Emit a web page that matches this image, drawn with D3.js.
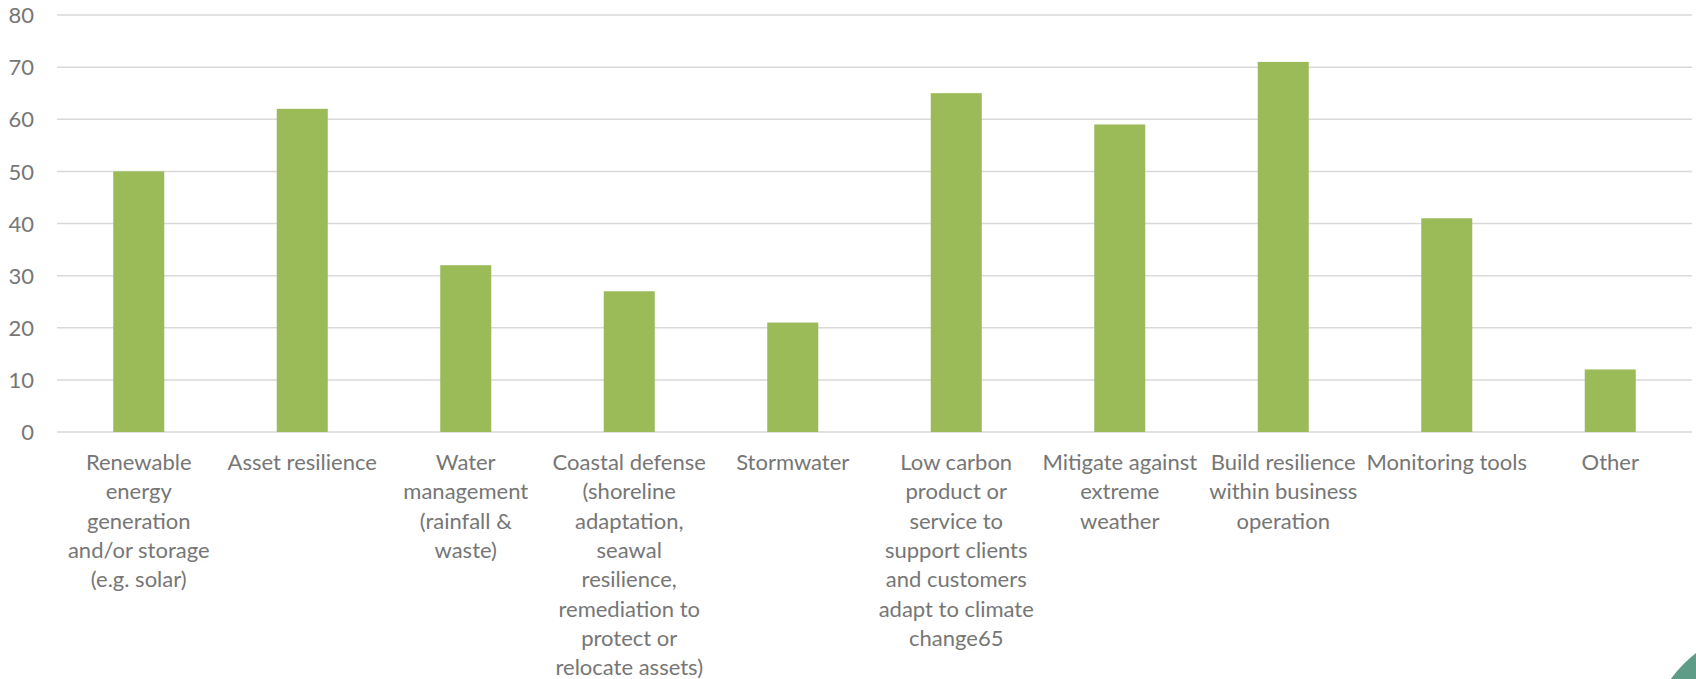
<!DOCTYPE html>
<html>
<head>
<meta charset="utf-8">
<script src="https://cdn.jsdelivr.net/npm/d3@7"></script>
<style>
  html, body { margin: 0; padding: 0; background: #fff; }
  svg { display: block; }
</style>
</head>
<body>
<svg id="chart" width="1696" height="679"></svg>
<script>
const categories = [
  "Renewable\nenergy\ngeneration\nand/or storage\n(e.g. solar)",
  "Asset resilience",
  "Water\nmanagement\n(rainfall &\nwaste)",
  "Coastal defense\n(shoreline\nadaptation,\nseawal\nresilience,\nremediation to\nprotect or\nrelocate assets)",
  "Stormwater",
  "Low carbon\nproduct or\nservice to\nsupport clients\nand customers\nadapt to climate\nchange65",
  "Mitigate against\nextreme\nweather",
  "Build resilience\nwithin business\noperation",
  "Monitoring tools",
  "Other"
];
const values = [50, 62, 32, 27, 21, 65, 59, 71, 41, 12];
const yTicks = [0, 10, 20, 30, 40, 50, 60, 70, 80];

(function () {
const svg = d3.select("#chart");
const mLeft = 57, mRight = 1692, mTop = 15, mBottom = 432;
const font = "Lato, Carlito, Calibri, sans-serif";
const fontSize = 22;
const textColor = "#767676";

// decorative circle (bottom-right corner)
svg.append("circle")
  .attr("cx", 1780).attr("cy", 760).attr("r", 136)
  .attr("fill", "#5e9c88");

const x = d3.scaleBand().domain(d3.range(categories.length)).range([mLeft, mRight]).paddingInner(0.688).paddingOuter(0.344);
const y = d3.scaleLinear().domain([0, 80]).range([mBottom, mTop]);

// gridlines
svg.append("g").selectAll("line").data(yTicks).join("line")
  .attr("x1", mLeft).attr("x2", mRight)
  .attr("y1", d => y(d)).attr("y2", d => y(d))
  .attr("stroke", "#d9d9d9").attr("stroke-width", 1.5);

// y axis labels
const yAxis = d3.axisLeft(y).tickValues(yTicks).tickSize(0).tickPadding(0);
const ga = svg.append("g").attr("transform", "translate(34,0)").call(yAxis);
ga.select(".domain").remove();
ga.selectAll("text")
  .attr("font-family", font).attr("font-size", fontSize)
  .attr("fill", textColor).attr("dy", "0.35em");

// bars
svg.append("g").selectAll("rect").data(values).join("rect")
  .attr("x", (d, i) => x(i))
  .attr("width", x.bandwidth())
  .attr("y", d => y(d))
  .attr("height", d => y(0) - y(d))
  .attr("fill", "#9bbb59");

// category labels
const lineH = 29.3;
const lg = svg.append("g");
categories.forEach((c, i) => {
  const cx = x(i) + x.bandwidth() / 2;
  const t = lg.append("text")
    .attr("text-anchor", "middle")
    .attr("font-family", font).attr("font-size", fontSize)
    .attr("fill", textColor);
  c.split("\n").forEach((ln, k) => {
    t.append("tspan").attr("x", cx).attr("y", 470 + k * lineH).text(ln);
  });
});
})();
</script>
</body>
</html>
